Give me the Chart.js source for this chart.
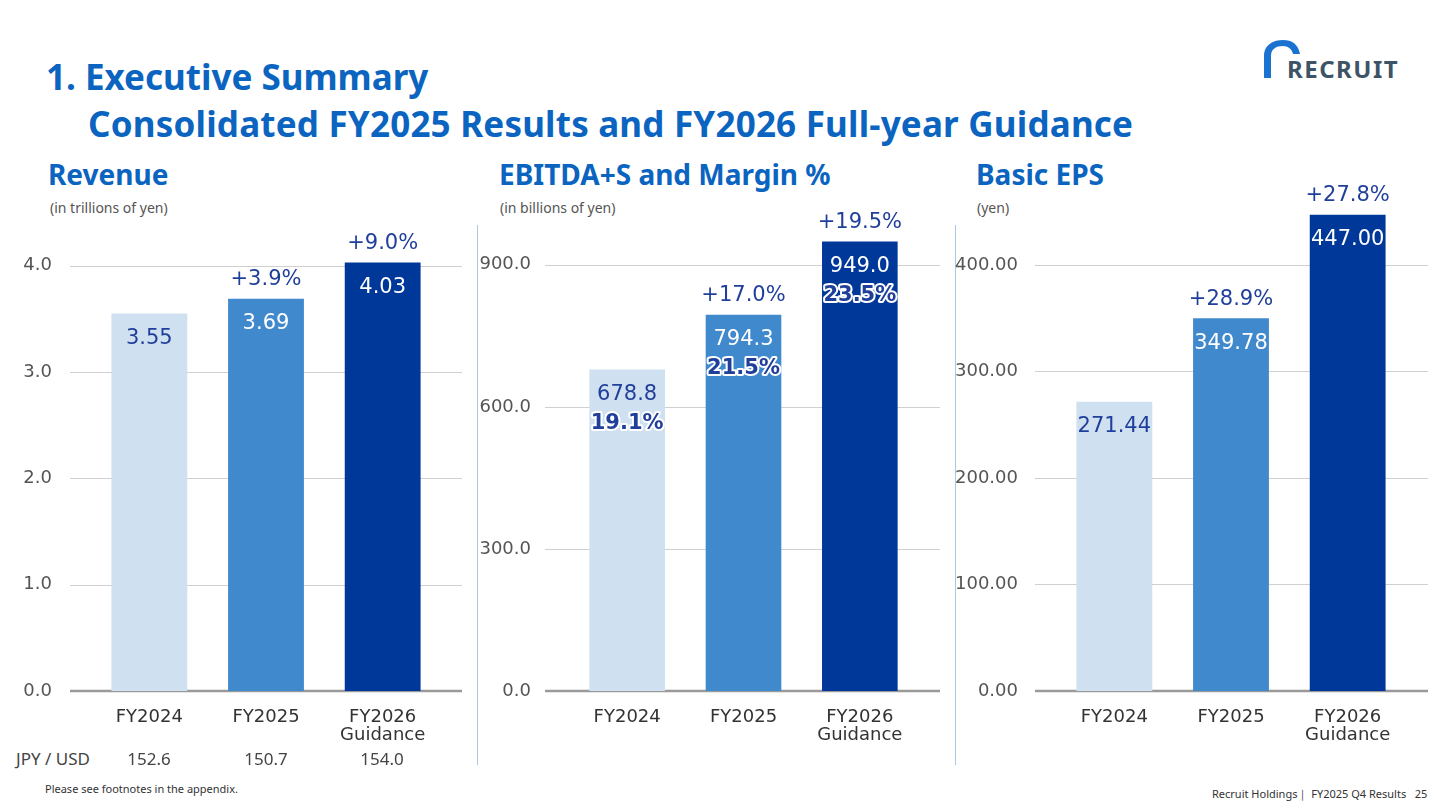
<!DOCTYPE html>
<html><head><meta charset="utf-8">
<script src="https://cdn.jsdelivr.net/npm/chart.js@4"></script>
<style>
body{margin:0;width:1440px;height:810px;background:#fff;position:relative;overflow:hidden;font-family:"Noto Sans",sans-serif}
.t{position:absolute;white-space:nowrap}
.h1{color:#0a64c0;font-weight:700;font-size:35px}
.h2{color:#0a64c0;font-weight:700;font-size:28px}
.sub{color:#555;font-size:14px}
.c{position:absolute}
.sep{position:absolute;width:1px;background:#a9c8e8;top:225px;height:540px}
</style></head><body>
<div class="t h1" style="left:46px;top:53px">1. Executive Summary</div>
<div class="t h1" style="left:88px;top:100px;letter-spacing:0.2px">Consolidated FY2025 Results and FY2026 Full-year Guidance</div>
<div class="t h2" style="left:48px;top:155px">Revenue</div>
<div class="t sub" style="left:50px;top:198px">(in trillions of yen)</div>
<div class="t h2" style="left:499px;top:155px">EBITDA+S and Margin %</div>
<div class="t sub" style="left:500px;top:198px">(in billions of yen)</div>
<div class="t h2" style="left:976px;top:155px">Basic EPS</div>
<div class="t sub" style="left:977px;top:198px">(yen)</div>
<div class="sep" style="left:477px"></div>
<div class="sep" style="left:955px"></div>
<div class="t" style="left:16px;top:747px;font-size:17px;color:#444">JPY / USD</div>
<div class="t" style="left:45px;top:781px;font-size:11px;color:#333">Please see footnotes in the appendix.</div>
<div class="t" style="left:1212px;top:786px;font-size:11px;color:#333">Recruit Holdings｜ FY2025 Q4 Results &nbsp;&nbsp;25</div>
<svg class="c" style="left:1260px;top:38px" width="44" height="42" viewBox="0 0 44 42"><path d="M4 40 V18 C4 6 14 2 23 2 C32 2 38 6 40 16 L33 16 C32 11 28 8 23 8 C16 8 11 11 11 18 V40 Z" fill="#1a73d0"/></svg>
<div class="t" style="left:1287px;top:52px;font-size:24px;font-weight:700;color:#3d5466;letter-spacing:1.5px">RECRUIT</div>
<div class="c" style="left:10px;top:200px;width:455px;height:551px"><canvas id="c1"></canvas></div>
<div class="c" style="left:466px;top:200px;width:476px;height:551px"><canvas id="c2"></canvas></div>
<div class="c" style="left:945px;top:150px;width:485px;height:601px"><canvas id="c3"></canvas></div>
<script>
const categories=["FY2024","FY2025",["FY2026","Guidance"]];
const revenue=[3.55,3.69,4.03];
const revenueGrowth=[null,"+3.9%","+9.0%"];
const ebitda=[678.8,794.3,949.0];
const margin=["19.1%","21.5%","23.5%"];
const ebitdaGrowth=[null,"+17.0%","+19.5%"];
const eps=[271.44,349.78,447.00];
const epsGrowth=[null,"+28.9%","+27.8%"];
const fxRate=["152.6","150.7","154.0"];
const revTicks=[0,1,2,3,4], ebTicks=[0,300,600,900], epsTicks=[0,100,200,300,400];
const colors=["#cfe0f1","#4189cd","#003899"];
const NAVY="#1f3f9a";
const fxX=[149,266,382];
fxRate.forEach((v,i)=>{const d=document.createElement('div');d.className='t';d.style.cssText=`left:${fxX[i]-40}px;width:80px;text-align:center;top:747px;font-size:17px;color:#444`;d.textContent=v;document.body.appendChild(d);});

function make(id,data,ticks,topTick,areaH,dec,tdec,growth,pct,yw,gl,gr){
  const max=topTick*areaH/426;
  const plug={id:'p'+id,
    beforeDatasetsDraw(ch){const c=ch.ctx,ys=ch.scales.y;c.save();c.strokeStyle='#d0d0d0';c.lineWidth=1;
      ticks.forEach(t=>{if(t===0)return;const y=Math.round(ys.getPixelForValue(t))+0.5;c.beginPath();c.moveTo(gl,y);c.lineTo(gr,y);c.stroke();});
      const y0=ys.getPixelForValue(0);c.strokeStyle='#9a9a9a';c.lineWidth=2.5;c.beginPath();c.moveTo(gl,y0);c.lineTo(gr,y0);c.stroke();c.restore();},
    afterDatasetsDraw(ch){const c=ch.ctx,m=ch.getDatasetMeta(0);c.save();c.textAlign='center';c.textBaseline='middle';
      m.data.forEach((b,i)=>{c.font='21px "DejaVu Sans"';
        c.fillStyle=i===0?NAVY:'#fff';c.fillText(data[i].toFixed(dec),b.x,b.y+25);
        if(growth[i]){c.fillStyle=NAVY;c.fillText(growth[i],b.x,b.y-19);}
        if(pct){c.font='bold 21px "DejaVu Sans"';c.lineWidth=4;c.strokeStyle='#fff';c.lineJoin='round';c.strokeText(pct[i],b.x,b.y+54);c.fillStyle=NAVY;c.fillText(pct[i],b.x,b.y+54);}
      });c.restore();}};
  new Chart(document.getElementById(id),{type:'bar',
    data:{labels:categories,datasets:[{data:data,backgroundColor:colors,categoryPercentage:1,barPercentage:0.65}]},
    options:{responsive:true,maintainAspectRatio:false,animation:false,
      layout:{padding:{right:24,top:0,bottom:0,left:0}},
      plugins:{legend:{display:false},tooltip:{enabled:false}},
      scales:{
        x:{grid:{display:false},border:{display:false},ticks:{color:'#333',font:{family:'DejaVu Sans',size:18,lineHeight:1.0},padding:9},afterFit(s){s.height=60;}},
        y:{min:0,max:max,grid:{display:false},border:{display:false},
          afterBuildTicks(s){s.ticks=ticks.map(v=>({value:v}));},
          ticks:{color:'#555',font:{family:'DejaVu Sans',size:18},padding:yw[1],callback:v=>Number(v).toFixed(tdec)},
          afterFit(s){s.width=yw[0];}}}},
    plugins:[plug]});
}
make('c1',revenue,revTicks,4,450,2,1,revenueGrowth,null,[81,31],60,452);
make('c2',ebitda,ebTicks,900,450,1,1,ebitdaGrowth,margin,[103,30],79,474);
make('c3',eps,epsTicks,400,500,2,2,epsGrowth,null,[111,30],90,483);
</script></body></html>
